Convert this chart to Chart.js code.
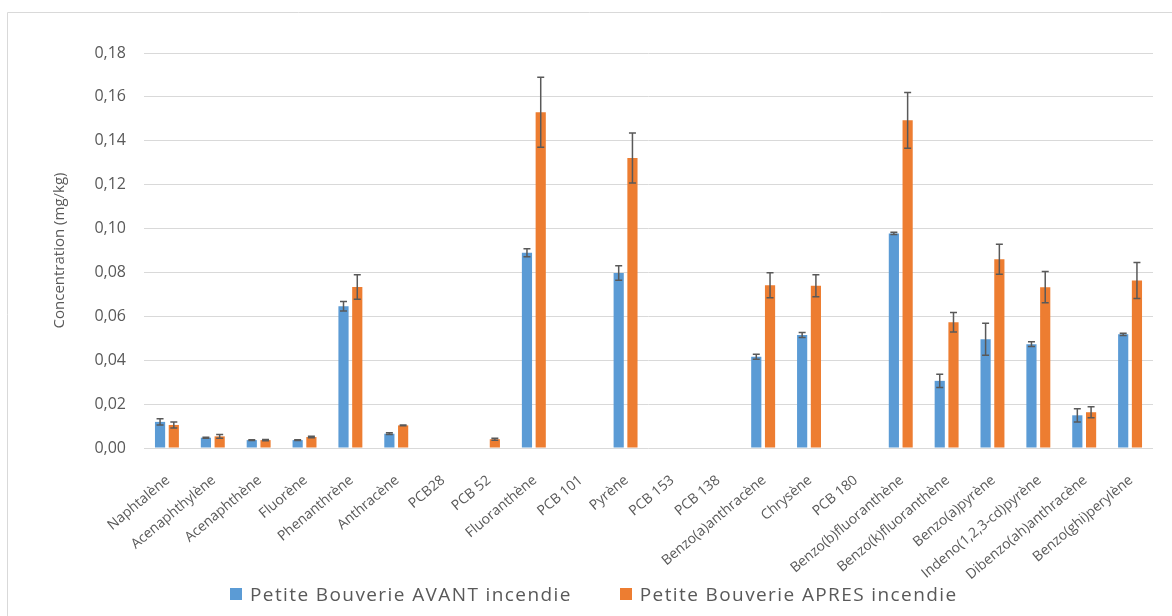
<!DOCTYPE html>
<html>
<head>
<meta charset="utf-8">
<script src="https://cdn.jsdelivr.net/npm/chart.js@4"></script>
<style>
  body { margin: 0; background: #fff; }
  #wrap { position: relative; width: 1172px; height: 616px; }
  #legend {
    position: absolute; left: 230px; top: 582px; height: 24px;
    display: flex; gap: 48px; line-height: 24px;
    font-family: "Open Sans", sans-serif; font-size: 19px; letter-spacing: 1.4px; color: #595959;
  }
  #legend span.item { display: flex; align-items: center; white-space: nowrap; }
  #legend span.box { display: inline-block; width: 12px; height: 12px; margin-right: 8px; }
</style>
</head>
<body>
<div id="wrap">
  <canvas id="chart" width="1172" height="616"></canvas>
  <div id="legend"></div>
</div>
<script>
// Catégories (composés)
const categories = ['Naphtalène', 'Acenaphthylène', 'Acenaphthène', 'Fluorène', 'Phenanthrène', 'Anthracène',
    'PCB28', 'PCB 52', 'Fluoranthène', 'PCB 101', 'Pyrène', 'PCB 153', 'PCB 138', 'Benzo(a)anthracène',
    'Chrysène', 'PCB 180', 'Benzo(b)fluoranthène', 'Benzo(k)fluoranthène', 'Benzo(a)pyrène',
    'Indeno(1,2,3-cd)pyrène', 'Dibenzo(ah)anthracène', 'Benzo(ghi)perylène'];

// Concentrations avant incendie (mg/kg)
const avant = [0.0119, 0.0047, 0.0036, 0.0036, 0.0646, 0.0065, null, null, 0.0890, null, 0.0798, null, null,
    0.0416, 0.0515, null, 0.0978, 0.0306, 0.0496, 0.0473, 0.0149, 0.0518];
const avantErr = [0.0014, 0.0002, 0.0002, 0.0002, 0.0022, 0.0004, null, null, 0.0018, null, 0.0033, null, null,
    0.0011, 0.0011, null, 0.0005, 0.0030, 0.0073, 0.0011, 0.0030, 0.0005];

// Concentrations après incendie (mg/kg)
const apres = [0.0105, 0.0053, 0.0036, 0.0050, 0.0734, 0.0103, null, 0.0040, 0.1530, null, 0.1322, null, null,
    0.0742, 0.0739, null, 0.1493, 0.0573, 0.0860, 0.0733, 0.0163, 0.0763];
const apresErr = [0.0014, 0.0009, 0.0003, 0.0003, 0.0056, 0.0002, null, 0.0005, 0.0160, null, 0.0114, null, null,
    0.0057, 0.0050, null, 0.0127, 0.0044, 0.0068, 0.0071, 0.0025, 0.0082];

const seriesNames = ['Petite Bouverie AVANT incendie', 'Petite Bouverie APRES incendie'];
const yTicks = [0, 0.02, 0.04, 0.06, 0.08, 0.10, 0.12, 0.14, 0.16, 0.18];

const textColor = '#595959';
const colors = ['#5B9BD5', '#ED7D31'];

// Cadre gris autour du graphique
const frame = {
    id: 'frame',
    beforeDraw(chart) {
        const ctx = chart.ctx;
        ctx.save();
        ctx.strokeStyle = '#D9D9D9';
        ctx.lineWidth = 1;
        ctx.beginPath();
        ctx.moveTo(7.5, chart.height);
        ctx.lineTo(7.5, 12.5);
        ctx.lineTo(chart.width, 12.5);
        ctx.stroke();
        ctx.restore();
    }
};

// Barres d'erreur
const errorBars = {
    id: 'errorBars',
    afterDatasetsDraw(chart) {
        const ctx = chart.ctx;
        const y = chart.scales.y;
        ctx.save();
        ctx.strokeStyle = '#595959';
        ctx.lineWidth = 1.5;
        chart.data.datasets.forEach((ds, i) => {
            const meta = chart.getDatasetMeta(i);
            meta.data.forEach((bar, j) => {
                const v = ds.data[j];
                const e = ds.errors[j];
                if (v == null || !e) return;
                const top = y.getPixelForValue(v + e);
                const bot = y.getPixelForValue(v - e);
                const x = bar.x;
                ctx.beginPath();
                ctx.moveTo(x, top); ctx.lineTo(x, bot);
                ctx.moveTo(x - 3.5, top); ctx.lineTo(x + 3.5, top);
                ctx.moveTo(x - 3.5, bot); ctx.lineTo(x + 3.5, bot);
                ctx.stroke();
            });
        });
        ctx.restore();
    }
};

const ctx = document.getElementById('chart').getContext('2d');

const chart = new Chart(ctx, {
    type: 'bar',
    data: {
        labels: categories,
        datasets: [{
            label: seriesNames[0],
            data: avant,
            errors: avantErr,
            backgroundColor: colors[0]
        }, {
            label: seriesNames[1],
            data: apres,
            errors: apresErr,
            backgroundColor: colors[1]
        }]
    },
    options: {
        responsive: false,
        animation: false,
        datasets: {
            bar: { categoryPercentage: 0.6, barPercentage: 0.74 }
        },
        layout: { padding: { left: 8, right: 19, top: 53, bottom: 30 } },
        scales: {
            x: {
                grid: { display: false },
                border: { display: false },
                ticks: {
                    autoSkip: false,
                    minRotation: 40,
                    maxRotation: 40,
                    labelOffset: 1,
                    padding: 16,
                    color: textColor,
                    font: { family: 'Open Sans', size: 14 }
                },
                afterFit(scale) { scale.height = 138; }
            },
            y: {
                min: 0,
                max: 0.18,
                afterBuildTicks(scale) { scale.ticks = yTicks.map(v => ({ value: v })); },
                grid: { color: '#D9D9D9', lineWidth: 1, drawTicks: false },
                border: { display: false },
                ticks: {
                    padding: 18,
                    color: textColor,
                    font: { family: 'Open Sans', size: 16 },
                    callback: v => v.toFixed(2).replace('.', ',')
                },
                title: {
                    display: true,
                    text: 'Concentration (mg/kg)',
                    color: textColor,
                    font: { family: 'Open Sans', size: 15 },
                    padding: { top: 43, bottom: 0 }
                },
                afterFit(scale) { scale.width = 136; }
            }
        },
        plugins: {
            legend: { display: false },
            tooltip: { enabled: false }
        }
    },
    plugins: [frame, errorBars]
});

// Légende en HTML
const legend = document.getElementById('legend');
seriesNames.forEach((name, i) => {
    const item = document.createElement('span');
    item.className = 'item';
    const box = document.createElement('span');
    box.className = 'box';
    box.style.background = colors[i];
    item.appendChild(box);
    item.appendChild(document.createTextNode(name));
    legend.appendChild(item);
});
</script>
</body>
</html>
